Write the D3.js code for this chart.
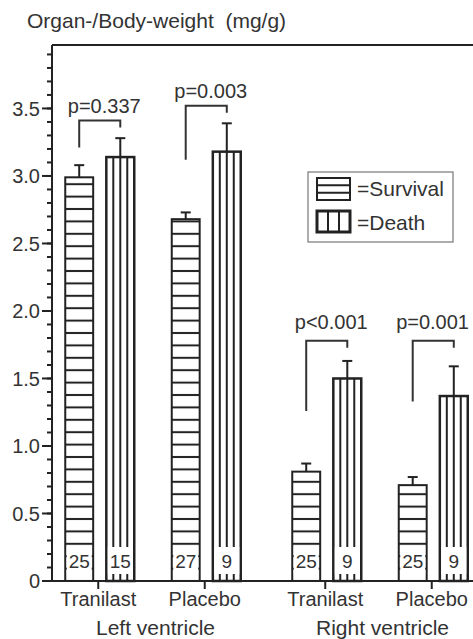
<!DOCTYPE html>
<html>
<head>
<meta charset="utf-8">
<script src="https://cdn.jsdelivr.net/npm/d3@7"></script>
<style>
  html, body { margin: 0; padding: 0; background: #fff; }
  svg text { font-family: "Liberation Sans", Arial, sans-serif; fill: #333; }
</style>
</head>
<body>
<div id="chart"></div>
<script>
// values
var groups = ["Left ventricle", "Right ventricle"];
var treatments = ["Tranilast", "Placebo"];
var series = ["Survival", "Death"];
var survivalMean = [2.99, 2.68, 0.81, 0.71];
var survivalErr = [0.09, 0.05, 0.06, 0.06];
var deathMean = [3.14, 3.18, 1.50, 1.37];
var deathErr = [0.14, 0.21, 0.13, 0.22];
var survivalN = [25, 27, 25, 25];
var deathN = [15, 9, 9, 9];
var pLabels = ["p=0.337", "p=0.003", "p<0.001", "p=0.001"];
var pLabelLevel = [3.47, 3.58, 1.87, 1.87];
var bracketTop = [3.41, 3.52, 1.78, 1.78];
var bracketLeftBottom = [3.21, 3.12, 1.26, 1.33];
var yTicks = [0, 0.5, 1.0, 1.5, 2.0, 2.5, 3.0, 3.5];
var yTickLabels = ["0", "0.5", "1.0", "1.5", "2.0", "2.5", "3.0", "3.5"];
var yMax = 3.97;

var width = 473, height = 639;
var ink = "#222";

var svg = d3.select("#chart").append("svg")
  .attr("width", width).attr("height", height);

var y = d3.scaleLinear().domain([0, yMax]).range([581, 45]);
var xGroup = d3.scaleBand().domain(groups).range([38, 492]);
var xTreat = d3.scaleBand().domain(treatments).range([7, 220]);
var xSeries = d3.scaleBand().domain(series).range([-33, 36]).paddingInner(0.32);

// one record per group/treatment
var cells = [];
groups.forEach(function(g, gi){
  treatments.forEach(function(t, ti){
    var i = gi * treatments.length + ti;
    cells.push({g: g, t: t, i: i,
      cx: xGroup(g) + xTreat(t) + xTreat.bandwidth() / 2});
  });
});

// horizontal hatch, anchored to the baseline
var defs = svg.append("defs");
var pat = defs.append("pattern").attr("id", "hatchH")
  .attr("patternUnits", "userSpaceOnUse")
  .attr("x", 0).attr("y", y(0))
  .attr("width", 10).attr("height", 12.4);
pat.append("rect").attr("width", 10).attr("height", 12.4).attr("fill", "#fff");
pat.append("rect").attr("y", -1).attr("width", 10).attr("height", 2).attr("fill", ink);
pat.append("rect").attr("y", 11.4).attr("width", 10).attr("height", 2).attr("fill", ink);

// title (double space kept)
svg.append("text").attr("x", 27).attr("y", 28)
  .style("font-size", "21px").style("white-space", "pre")
  .text("Organ-/Body-weight  (mg/g)");

// frame top line and axes
svg.append("line").attr("x1", 52).attr("x2", width).attr("y1", y(yMax)).attr("y2", y(yMax))
  .attr("stroke", ink).attr("stroke-width", 2);
svg.append("line").attr("x1", 52).attr("x2", 52).attr("y1", y(yMax)).attr("y2", y(0))
  .attr("stroke", ink).attr("stroke-width", 2);

var minor = d3.range(0, 40).map(function(k){ return k / 10; }).filter(function(v){ return v <= yMax; });
svg.selectAll(".minor").data(minor).enter().append("line")
  .attr("x1", 47).attr("x2", 52)
  .attr("y1", function(d){ return y(d); }).attr("y2", function(d){ return y(d); })
  .attr("stroke", ink).attr("stroke-width", 2);
svg.selectAll(".major").data(yTicks).enter().append("line")
  .attr("x1", 42).attr("x2", 52)
  .attr("y1", function(d){ return y(d); }).attr("y2", function(d){ return y(d); })
  .attr("stroke", ink).attr("stroke-width", 2);
svg.selectAll(".ylab").data(yTicks).enter().append("text")
  .attr("x", 40).attr("y", function(d){ return y(d); }).attr("dy", "0.36em")
  .attr("text-anchor", "end").style("font-size", "20px")
  .text(function(d, i){ return yTickLabels[i]; });

// bars
var survW = xSeries.bandwidth(), deathW = xSeries.bandwidth();
cells.forEach(function(c){
  var i = c.i;
  var sx = c.cx + xSeries("Survival"), dx = c.cx + xSeries("Death");

  // survival bar
  svg.append("rect").attr("x", sx).attr("y", y(survivalMean[i]))
    .attr("width", survW).attr("height", y(0) - y(survivalMean[i]))
    .attr("fill", "url(#hatchH)").attr("stroke", ink).attr("stroke-width", 2);
  // death bar
  svg.append("rect").attr("x", dx).attr("y", y(deathMean[i]))
    .attr("width", deathW).attr("height", y(0) - y(deathMean[i]))
    .attr("fill", "#fff").attr("stroke", ink).attr("stroke-width", 2.5);
  [1, 2, 3].forEach(function(k){
    svg.append("line").attr("x1", dx + deathW * k / 4).attr("x2", dx + deathW * k / 4)
      .attr("y1", y(deathMean[i])).attr("y2", y(0))
      .attr("stroke", ink).attr("stroke-width", 2);
  });

  // error bars
  [[sx + survW / 2, survivalMean[i], survivalErr[i]], [dx + deathW / 2, deathMean[i], deathErr[i]]].forEach(function(e){
    svg.append("line").attr("x1", e[0]).attr("x2", e[0])
      .attr("y1", y(e[1])).attr("y2", y(e[1] + e[2]))
      .attr("stroke", ink).attr("stroke-width", 2);
    svg.append("line").attr("x1", e[0] - 5).attr("x2", e[0] + 5)
      .attr("y1", y(e[1] + e[2])).attr("y2", y(e[1] + e[2]))
      .attr("stroke", ink).attr("stroke-width", 2);
  });

  // n boxes
  [[sx, survW, survivalN[i]], [dx, deathW, deathN[i]]].forEach(function(b){
    svg.append("rect").attr("x", b[0] + 1.5).attr("y", y(0) - 34)
      .attr("width", b[1] - 3).attr("height", 27).attr("fill", "#fff");
    svg.append("text").attr("x", b[0] + b[1] / 2).attr("y", y(0) - 13)
      .attr("text-anchor", "middle").style("font-size", "19px").text(b[2]);
  });

  // significance bracket
  var lx = sx + survW / 2, rx = dx + deathW / 2;
  svg.append("path")
    .attr("d", "M" + lx + "," + y(bracketLeftBottom[i]) + "V" + y(bracketTop[i]) +
      "H" + rx + "V" + (y(bracketTop[i]) + 7))
    .attr("fill", "none").attr("stroke", "#333").attr("stroke-width", 2);
  var pt = svg.append("text").attr("y", y(pLabelLevel[i]))
    .attr("text-anchor", "middle").style("font-size", "20px").text(pLabels[i]);
  var tw = pt.node().getComputedTextLength();
  pt.attr("x", Math.min(c.cx + 6, width - 4 - tw / 2));
});

// x axis
svg.append("line").attr("x1", 42).attr("x2", width).attr("y1", y(0)).attr("y2", y(0))
  .attr("stroke", ink).attr("stroke-width", 2);
svg.selectAll(".xt").data(cells).enter().append("line")
  .attr("x1", function(d){ return d.cx; }).attr("x2", function(d){ return d.cx; })
  .attr("y1", y(0)).attr("y2", y(0) + 8)
  .attr("stroke", ink).attr("stroke-width", 2);
svg.selectAll(".xl").data(cells).enter().append("text")
  .attr("x", function(d){ return d.cx; }).attr("y", 606)
  .attr("text-anchor", "middle").style("font-size", "20px")
  .text(function(d){ return d.t; });
svg.selectAll(".gl").data(groups).enter().append("text")
  .attr("x", function(d){ return xGroup(d) + xGroup.bandwidth() / 2 + 4; }).attr("y", 635)
  .attr("text-anchor", "middle").style("font-size", "21px")
  .text(function(d){ return d; });

// legend
var lg = svg.append("g").attr("transform", "translate(308,172)");
lg.append("rect").attr("width", 145).attr("height", 70)
  .attr("fill", "#fff").attr("stroke", "#777").attr("stroke-width", 1.2);
lg.append("rect").attr("x", 9).attr("y", 6).attr("width", 33).attr("height", 22)
  .attr("fill", "#fff").attr("stroke", ink).attr("stroke-width", 2);
[1, 2].forEach(function(k){
  lg.append("line").attr("x1", 9).attr("x2", 42).attr("y1", 6 + 22 * k / 3).attr("y2", 6 + 22 * k / 3)
    .attr("stroke", ink).attr("stroke-width", 2);
});
lg.append("rect").attr("x", 9).attr("y", 39).attr("width", 33).attr("height", 21)
  .attr("fill", "#fff").attr("stroke", ink).attr("stroke-width", 3);
[1, 2].forEach(function(k){
  lg.append("line").attr("x1", 9 + 33 * k / 3).attr("x2", 9 + 33 * k / 3).attr("y1", 39).attr("y2", 60)
    .attr("stroke", ink).attr("stroke-width", 2);
});
lg.selectAll(".lt").data(series).enter().append("text")
  .attr("x", 49).attr("y", function(d, i){ return 24 + i * 34; })
  .style("font-size", "21px").text(function(d){ return "=" + d; });
</script>
</body>
</html>
